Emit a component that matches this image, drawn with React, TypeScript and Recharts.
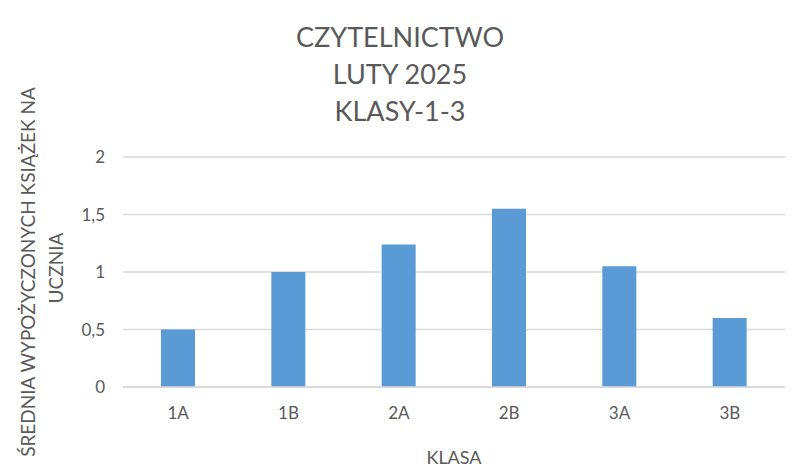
import { BarChart, Bar, XAxis, YAxis, CartesianGrid, Label } from "recharts";

const classes = ["1A", "1B", "2A", "2B", "3A", "3B"];
const avgBooks = [0.5, 1.0, 1.24, 1.55, 1.05, 0.6];
const yTicks = [0, 0.5, 1, 1.5, 2];
const titleLines = ["CZYTELNICTWO", "LUTY 2025", "KLASY-1-3"];
const yLabelLines = ["ŚREDNIA WYPOŻYCZONYCH KSIĄŻEK NA", "UCZNIA"];

const data = classes.map((name, i) => ({ name, value: avgBooks[i] }));

const FONT = "Lato, 'Open Sans', sans-serif";
const TEXT = "#595959";

function YAxisTitle(props: any) {
  const vb = props.viewBox || {};
  const cy = (vb.y ?? 0) + (vb.height ?? 0) / 2;
  return (
    <g>
      {yLabelLines.map((line, i) => (
        <text
          key={line}
          x={0}
          y={0}
          transform={`translate(${35 + i * 28}, ${cy - i * 4}) rotate(-90)`}
          textAnchor="middle"
          fill={TEXT}
          fontFamily={FONT}
          fontSize={19}
        >
          {line}
        </text>
      ))}
    </g>
  );
}

export default function App() {
  return (
    <div style={{ position: "absolute", left: 0, top: 0, width: 800, height: 470, background: "#fff" }}>
      <div
        style={{
          position: "absolute",
          left: 0,
          top: 18,
          width: 800,
          textAlign: "center",
          fontFamily: FONT,
          fontSize: 27,
          lineHeight: "37px",
          color: TEXT,
        }}
      >
        {titleLines.map((t) => (
          <div key={t}>{t}</div>
        ))}
      </div>
      <BarChart width={800} height={470} data={data} margin={{ top: 157, right: 15, bottom: 0, left: 0 }}>
        <CartesianGrid vertical={false} stroke="#d9d9d9" strokeWidth={1.3} />
        <XAxis
          dataKey="name"
          axisLine={{ stroke: "#d9d9d9", strokeWidth: 1.3 }}
          tickLine={false}
          tickSize={0}
          tickMargin={20}
          tick={{ fill: TEXT, fontFamily: FONT, fontSize: 17 }}
          height={83}
        >
          <Label
            value="KLASA"
            position="insideBottom"
            offset={6}
            fill={TEXT}
            fontFamily={FONT}
            fontSize={18}
          />
        </XAxis>
        <YAxis
          width={123}
          domain={[0, 2]}
          ticks={yTicks}
          axisLine={false}
          tickLine={false}
          tickSize={0}
          tickMargin={18}
          tickFormatter={(v: number) => String(v).replace(".", ",")}
          tick={{ fill: TEXT, fontFamily: FONT, fontSize: 17 }}
        >
          <Label content={<YAxisTitle />} />
        </YAxis>
        <Bar dataKey="value" fill="#5b9bd5" barSize={34} isAnimationActive={false} />
      </BarChart>
    </div>
  );
}
